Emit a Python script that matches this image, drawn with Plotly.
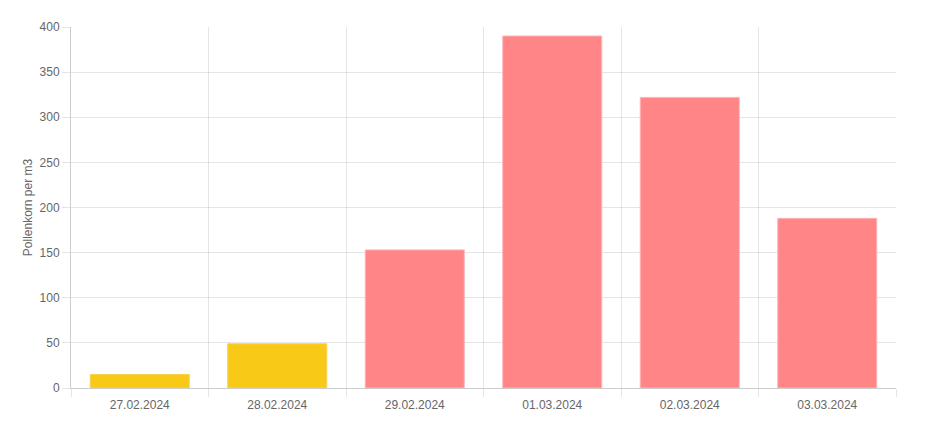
import plotly.graph_objects as go

dates = ["27.02.2024", "28.02.2024", "29.02.2024", "01.03.2024", "02.03.2024", "03.03.2024"]
pollen = [15, 49, 153, 390, 322, 188]
bar_colors = ["#F9C918", "#F9C918", "#FF8587", "#FF8587", "#FF8587", "#FF8587"]
line_colors = ["#FAD04A", "#FAD04A", "#FFB3B5", "#FFB3B5", "#FFB3B5", "#FFB3B5"]

grid = "rgba(0,0,0,0.1)"
axis = "rgba(0,0,0,0.2)"

fig = go.Figure(go.Bar(
    x=dates, y=pollen,
    marker=dict(color=bar_colors, line=dict(color=line_colors, width=1)),
    hovertemplate="%{x}: %{y}<extra></extra>",
))

# page body has an 8px margin, so margins are shifted to compensate
fig.update_layout(
    width=937, height=426,
    margin=dict(l=63, r=49, t=19, b=46),
    paper_bgcolor="white", plot_bgcolor="white",
    bargap=0.28,
    showlegend=False,
    font=dict(family="Liberation Sans, Arial, sans-serif", size=12, color="#666"),
)
fig.update_xaxes(
    type="category", range=[-0.5, 5.5],
    tickson="boundaries", ticks="outside", ticklen=8, tickcolor=grid,
    ticklabelstandoff=6,
    showgrid=True, gridcolor=grid, gridwidth=1,
    showline=True, linecolor=axis, linewidth=1,
    tickfont=dict(size=12, color="#666"),
)
fig.update_yaxes(
    range=[0, 400], dtick=50,
    ticks="outside", ticklen=8, tickcolor=grid,
    showgrid=True, gridcolor=grid, gridwidth=1,
    showline=True, linecolor=axis, linewidth=1,
    zeroline=False,
    title=dict(text="Pollenkorn per m3", standoff=4, font=dict(size=12, color="#666")),
    tickfont=dict(size=12, color="#666"),
)

fig.write_html("out.html")
